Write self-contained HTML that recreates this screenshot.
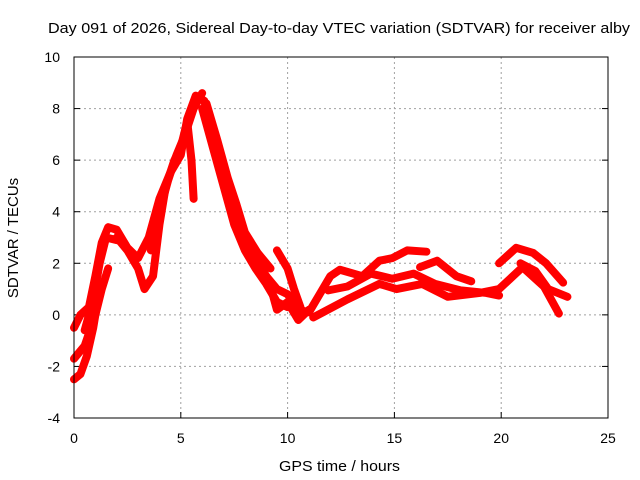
<!DOCTYPE html>
<html><head><meta charset="utf-8"><style>
body{margin:0;background:#fff}
svg{display:block;font-family:"Liberation Sans",sans-serif}
</style></head><body>
<svg id="chart" width="640" height="480">
<text x="48" y="33" font-size="15" textLength="582" lengthAdjust="spacingAndGlyphs">Day 091 of 2026, Sidereal Day-to-day VTEC variation (SDTVAR) for receiver alby</text>
<text x="279" y="471" font-size="15" textLength="121" lengthAdjust="spacingAndGlyphs">GPS time / hours</text>
<text transform="translate(18,238) rotate(-90)" font-size="15" text-anchor="middle">SDTVAR / TECUs</text>
<g id="grid"></g><g id="series"></g>
<rect x="74" y="57" width="534" height="361" fill="none" stroke="#000"/>
</svg>
<script>
const xTicks=[0,5,10,15,20,25];
const yTicks=[-4,-2,0,2,4,6,8,10];
const s1=[[0,-0.5],[0.3,0],[0.7,0.3],[1.0,1.5],[1.3,2.8],[1.6,3.4],[2.0,3.3],[2.5,2.6],[3.0,2.2],[3.5,3.0],[4.0,4.5],[4.5,5.5],[5.0,6.2],[5.3,7.6],[5.7,8.5],[6.1,8.3],[6.5,7.0],[7.0,5.5],[7.5,4.2],[8.0,2.8],[8.5,2.2],[9.0,1.5],[9.5,1.0],[10,0.8],[10.5,0.2],[11,0.1],[11.5,0.8],[12.0,1.5],[12.45,1.75],[13.5,1.5],[14.3,2.1],[14.9,2.2],[15.6,2.5],[16.5,2.45]];
const s2=[[0,-1.7],[0.5,-1.2],[1.0,0],[1.3,1.0],[1.6,1.8]];
const s3=[[0,-2.5],[0.3,-2.3],[0.6,-1.6],[0.9,-0.5],[1.1,0.5]];
const s4=[[2.0,3.0],[2.5,2.5],[3.0,1.8],[3.3,1.0],[3.7,1.5],[4.0,3.5],[4.3,5.0],[4.7,6.0],[5.0,6.5],[5.3,7.5],[5.5,6.0],[5.6,4.5]];
const s5=[[6.0,8.0],[6.5,6.5],[7.0,5.0],[7.5,3.5],[8.0,2.5],[8.5,1.8],[9.0,1.2],[9.5,0.5],[10,0.3]];
const s6=[[6.3,7.5],[6.8,6.0],[7.3,4.5],[7.8,3.7]];
const s7=[[8.5,2.0],[9.0,1.5],[9.3,0.8],[9.5,0.2],[10,0.5],[10.5,-0.2],[11,0.2]];
const s8=[[9.5,2.5],[10,1.8],[10.3,1.0],[10.6,0.3]];
const s9=[[11.2,-0.1],[12.8,0.6],[14.3,1.2],[15.1,1.0],[16.3,1.2],[17.5,0.7],[19,0.85],[19.9,1.0],[21,1.85],[22,1.1],[22.7,0.05]];
const s10=[[16.2,1.85],[17,2.1],[17.9,1.5],[18.6,1.3]];
const s11=[[19.9,2.0],[20.7,2.6],[21.5,2.4],[22.1,2.0],[22.9,1.25]];
const s12=[[20.9,2.0],[21.6,1.7],[22.2,1.0],[23.1,0.7]];
const s13=[[11.9,0.95],[12.8,1.1],[13.9,1.6],[14.9,1.4],[15.9,1.6],[16.9,1.2],[18.1,0.95],[19.3,0.85],[19.9,0.75]];
const s14=[[3.6,2.5],[4.0,4.0],[4.4,5.2],[4.8,6.2],[5.2,7.0],[5.6,8.0],[6.0,8.6]];
const s15=[[6.2,8.2],[6.7,6.8],[7.2,5.3],[7.6,4.3],[8.0,3.2],[8.6,2.4],[9.2,1.8]];
const s16=[[0.5,-0.6],[0.9,0.6],[1.2,2.0],[1.5,3.0],[2.0,2.9]];
const allSeries=[s1,s2,s3,s4,s5,s6,s7,s8,s9,s10,s11,s12,s13,s14,s15,s16];
const NS="http://www.w3.org/2000/svg";
const X=v=>74+v*(534/25), Y=v=>57+(10-v)*(361/14);
const grid=document.getElementById('grid');
function mk(t,a,p){const e=document.createElementNS(NS,t);for(const k in a)e.setAttribute(k,a[k]);p.appendChild(e);return e;}
xTicks.forEach(t=>{
 if(t>0&&t<25){const l=mk('line',{x1:X(t),x2:X(t),y1:57,y2:418,stroke:'#a0a0a0','stroke-dasharray':'2,3'},grid);
 
 }
 mk('line',{x1:X(t),x2:X(t),y1:418,y2:412,stroke:'#000'},grid);
 const tx=mk('text',{x:X(t),y:443,'font-size':14,'text-anchor':'middle'},grid);tx.textContent=t;
 
 
});
yTicks.forEach(t=>{
 if(t>-4&&t<10){const l=mk('line',{x1:74,x2:608,y1:Y(t),y2:Y(t),stroke:'#a0a0a0','stroke-dasharray':'2,3'},grid);
 
 }
 mk('line',{x1:74,x2:80,y1:Y(t),y2:Y(t),stroke:'#000'},grid);
 mk('line',{x1:602,x2:608,y1:Y(t),y2:Y(t),stroke:'#000'},grid);
 const tx=mk('text',{x:60,y:Y(t)+5,'font-size':14,'text-anchor':'end'},grid);tx.textContent=t;
 
 
});
const sg=document.getElementById('series');
allSeries.forEach(s=>{
 const p=mk('polyline',{points:s.map(d=>X(d[0])+','+Y(d[1])).join(' '),fill:'none',stroke:'#ff0000','stroke-width':8,'stroke-linejoin':'round','stroke-linecap':'round'},sg);
 
 
});
</script>
</body></html>
